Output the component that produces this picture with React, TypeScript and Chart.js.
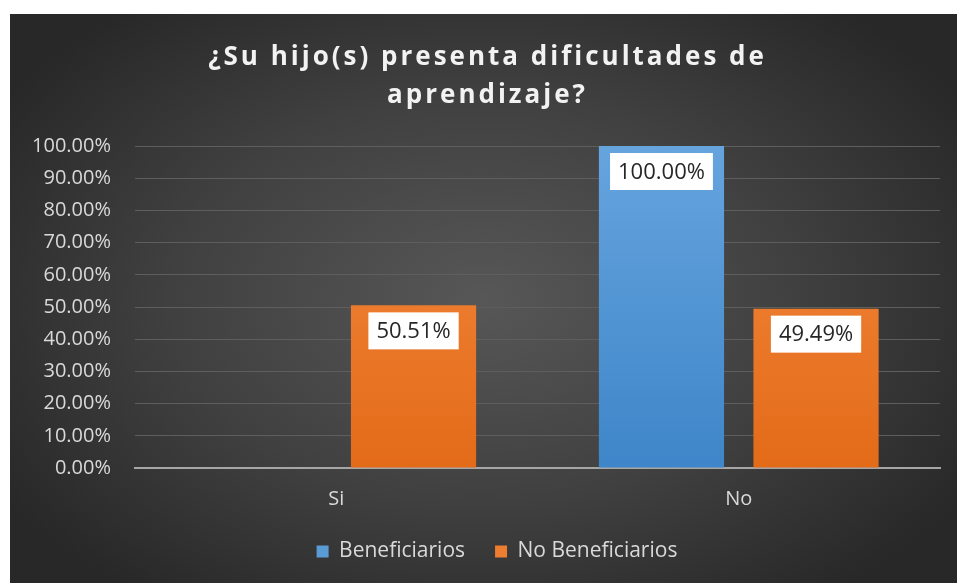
import React, { useEffect, useRef } from "react";
import { Chart, registerables } from "chart.js";

Chart.register(...registerables);

const titleLines = ["¿Su hijo(s) presenta dificultades de", "aprendizaje?"];
const categories = ["Si", "No"];
const seriesNames = ["Beneficiarios", "No Beneficiarios"];
const beneficiarios: (number | null)[] = [null, 100.0];
const noBeneficiarios: (number | null)[] = [50.51, 49.49];
const yMin = 0;
const yMax = 100;
const yStep = 10;

const FONT = "'Open Sans', 'Noto Sans', sans-serif";

const solidColors = ["#5b9bd5", "#ed7d31"];
const gradStops = [
  ["#66a4de", "#3e86c9"],
  ["#f48a41", "#e36b18"],
];

function makeGradient(ctx: any, idx: number) {
  const chart = ctx.chart;
  const area = chart.chartArea;
  if (!area) return solidColors[idx];
  const g = chart.ctx.createLinearGradient(0, area.top, 0, area.bottom);
  g.addColorStop(0, gradStops[idx][0]);
  g.addColorStop(1, gradStops[idx][1]);
  return g;
}

const titlePlugin = {
  id: "spacedTitle",
  afterDraw(chart: any) {
    const ctx = chart.ctx;
    ctx.save();
    ctx.fillStyle = "#f2f2f2";
    ctx.font = `bold 26px ${FONT}`;
    (ctx as any).letterSpacing = "3px";
    ctx.textAlign = "center";
    ctx.textBaseline = "middle";
    const cx = chart.width / 2;
    const ys = [44, 82];
    titleLines.forEach((t, i) => ctx.fillText(t, cx + 4, ys[i]));
    ctx.restore();
  },
};

const legendShiftPlugin = {
  id: "legendShift",
  afterLayout(chart: any) {
    if (chart.legend) {
      chart.legend.left += 22;
      chart.legend.right += 22;
    }
  },
};

const labelPlugin = {
  id: "boxLabels",
  afterDatasetsDraw(chart: any) {
    const ctx = chart.ctx;
    ctx.save();
    ctx.font = `22px ${FONT}`;
    ctx.textAlign = "center";
    ctx.textBaseline = "middle";
    chart.data.datasets.forEach((ds: any, di: number) => {
      const meta = chart.getDatasetMeta(di);
      meta.data.forEach((bar: any, i: number) => {
        const v = ds.data[i];
        if (v === null || v === undefined) return;
        const text = v.toFixed(2) + "%";
        const tw = ctx.measureText(text).width;
        const w = tw + 16;
        const h = 37;
        const top = bar.y + 7;
        ctx.fillStyle = "#ffffff";
        ctx.fillRect(bar.x - w / 2, top, w, h);
        ctx.fillStyle = "#262626";
        ctx.fillText(text, bar.x, top + h / 2 + 1);
      });
    });
    ctx.restore();
  },
};

export default function App() {
  const ref = useRef<HTMLCanvasElement | null>(null);

  useEffect(() => {
    document.body.style.overflow = "hidden";
    const canvas = ref.current;
    if (!canvas) return;
    const chart = new Chart(canvas, {
      type: "bar",
      data: {
        labels: categories,
        datasets: [
          {
            label: seriesNames[0],
            data: beneficiarios,
            backgroundColor: (c: any) => makeGradient(c, 0),
            borderWidth: 0,
          },
          {
            label: seriesNames[1],
            data: noBeneficiarios,
            backgroundColor: (c: any) => makeGradient(c, 1),
            borderWidth: 0,
          },
        ],
      },
      options: {
        animation: false,
        responsive: false,
        maintainAspectRatio: false,
        datasets: {
          bar: { categoryPercentage: 0.768, barPercentage: 0.81 },
        },
        layout: { padding: { top: 132, right: 17, bottom: 11, left: 0 } },
        plugins: {
          title: { display: false },
          tooltip: { enabled: false },
          legend: {
            display: true,
            position: "bottom",
            labels: {
              color: "#d9d9d9",
              font: { family: FONT, size: 21 },
              boxWidth: 12,
              boxHeight: 12,
              padding: 30,
              generateLabels: (chart: any) =>
                chart.data.datasets.map((ds: any, i: number) => ({
                  text: ds.label,
                  fillStyle: solidColors[i],
                  strokeStyle: solidColors[i],
                  lineWidth: 0,
                  fontColor: "#d9d9d9",
                  hidden: false,
                  datasetIndex: i,
                })),
            },
          },
        },
        scales: {
          x: {
            grid: { display: false, drawTicks: false },
            border: { display: true, color: "#a6a6a6", width: 2 },
            ticks: {
              color: "#d9d9d9",
              font: { family: FONT, size: 20 },
              padding: 19,
            },
            afterFit: (s: any) => {
              s.height = 43;
            },
          },
          y: {
            min: yMin,
            max: yMax,
            grid: { color: "#5e5e5e", lineWidth: 1, drawTicks: false },
            border: { display: false },
            ticks: {
              stepSize: yStep,
              color: "#d9d9d9",
              font: { family: FONT, size: 20 },
              padding: 24,
              callback: (v: any) => Number(v).toFixed(2) + "%",
            },
            afterFit: (s: any) => {
              s.width = 125;
            },
          },
        },
      },
      plugins: [titlePlugin, labelPlugin, legendShiftPlugin],
    } as any);
    return () => chart.destroy();
  }, []);

  return (
    <div
      style={{
        position: "absolute",
        left: 10,
        top: 14,
        width: 947,
        height: 569,
        background:
          "radial-gradient(ellipse 60% 65% at 50% 50%, #575757 0%, #404040 55%, #282828 100%)",
      }}
    >
      <canvas ref={ref} width={947} height={569} style={{ display: "block" }} />
    </div>
  );
}
